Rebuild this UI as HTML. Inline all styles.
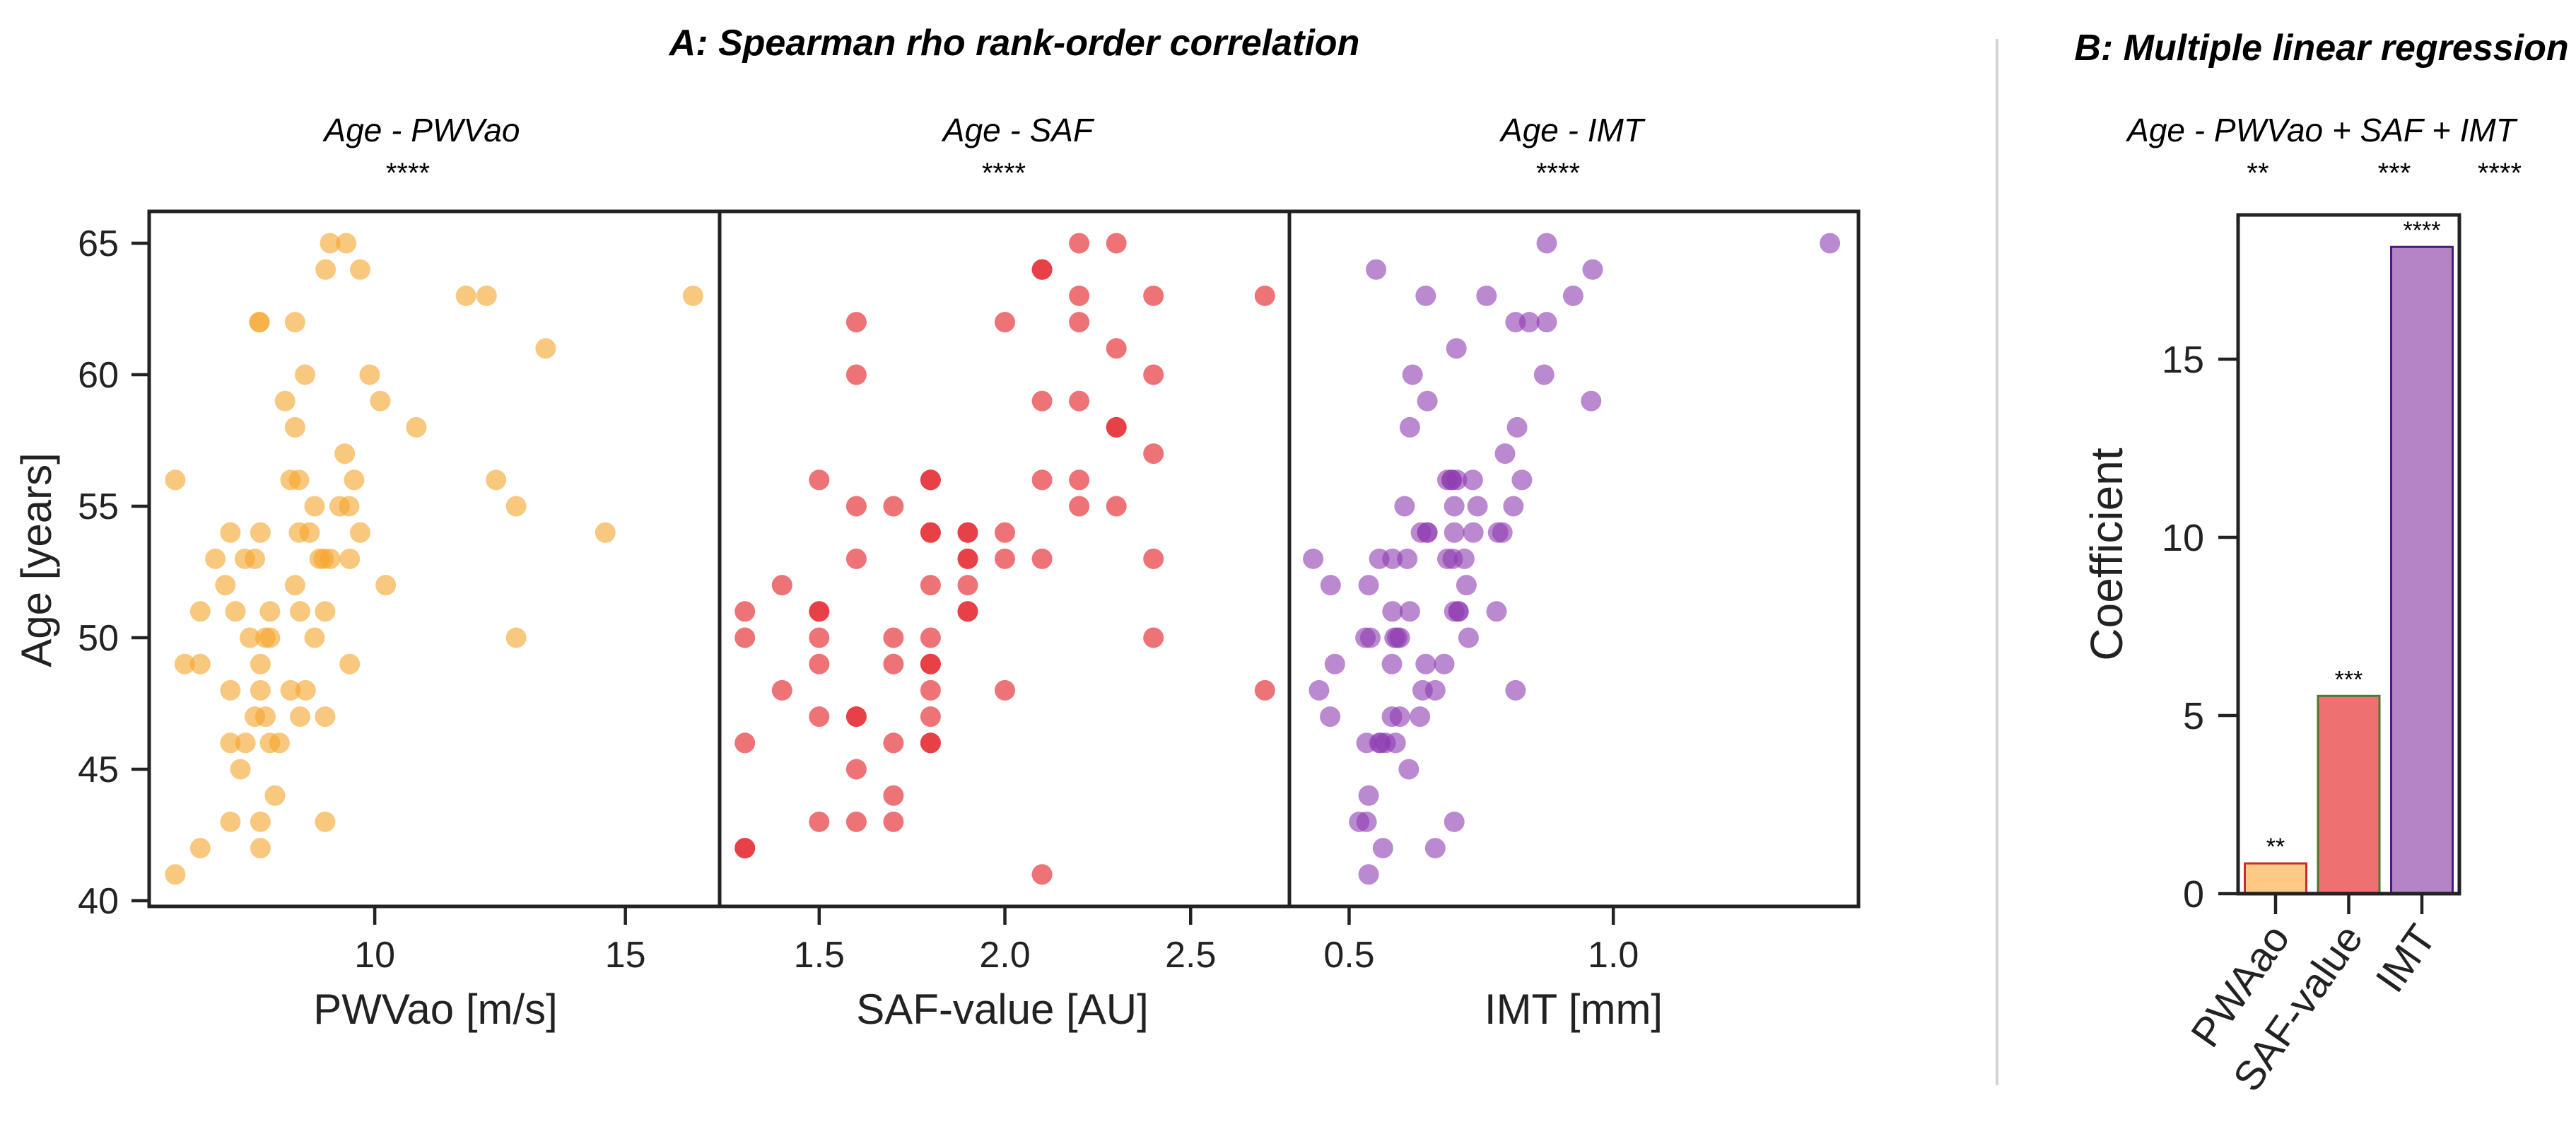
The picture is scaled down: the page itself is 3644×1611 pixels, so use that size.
<!DOCTYPE html>
<html><head><meta charset="utf-8"><style>
html,body{margin:0;padding:0;background:#fff;}
svg{display:block;font-family:"Liberation Sans",Arial,sans-serif;}
</style></head><body>
<svg id="chart" xmlns="http://www.w3.org/2000/svg" width="3644" height="1611" viewBox="0 0 3644 1611">
<rect x="0" y="0" width="3644" height="1611" fill="#fff"/>
<g id="g-panels"></g>
<text x="1435" y="78" font-size="52" font-weight="bold" font-style="italic" text-anchor="middle">A: Spearman rho rank-order correlation</text>
<text x="3284" y="85" font-size="52" font-weight="bold" font-style="italic" text-anchor="middle">B: Multiple linear regression</text>
<line x1="2825" y1="55" x2="2825" y2="1535" stroke="#d4d4d4" stroke-width="4"/>
<text transform="translate(72,792) rotate(-90)" font-size="60" text-anchor="middle" fill="#222">Age [years]</text>
<text transform="translate(3002,784) rotate(-90)" font-size="64" text-anchor="middle" fill="#222">Coefficient</text>
<text x="3284" y="200" font-size="46" font-style="italic" text-anchor="middle">Age - PWVao + SAF + IMT</text>
</svg>
<script>
// ---- Scatter data (ages and predictor values) ----
const pwvAge = [65,65,64,64,63,63,63,62,62,62,61,60,60,59,59,58,58,57,56,56,56,56,56,55,55,55,55,54,54,54,54,54,54,53,53,53,53,53,53,53,52,52,52,51,51,51,51,51,50,50,50,50,50,49,49,49,49,48,48,48,48,47,47,47,47,46,46,46,46,45,44,43,43,43,42,42,41];
const pwvVal = [9.11,9.43,9.02,9.71,11.82,12.23,16.35,7.70,7.70,8.41,13.41,8.61,9.90,8.21,10.11,8.41,10.83,9.40,6.02,8.32,8.49,9.59,12.42,8.80,9.30,9.49,12.82,7.12,7.72,8.49,8.70,9.71,14.60,6.82,7.41,7.61,8.90,8.98,9.11,9.50,7.02,8.41,10.22,6.52,7.22,7.91,8.51,9.01,7.51,7.82,7.91,8.80,12.82,6.21,6.52,7.72,9.50,7.12,7.72,8.32,8.62,7.61,7.82,8.51,9.01,7.12,7.42,7.91,8.10,7.32,8.01,7.12,7.72,9.01,6.52,7.72,6.02];
const safAge = [65,65,64,64,63,63,63,62,62,62,61,60,60,59,59,58,58,57,56,56,56,56,56,55,55,55,55,54,54,54,54,54,53,53,53,53,53,53,52,52,52,51,51,51,51,51,50,50,50,50,50,49,49,49,49,48,48,48,48,47,47,47,47,46,46,46,46,45,44,43,43,43,42,42,41];
const safVal = [2.2,2.3,2.1,2.1,2.2,2.4,2.7,1.6,2.0,2.2,2.3,1.6,2.4,2.1,2.2,2.3,2.3,2.4,1.5,1.8,1.8,2.1,2.2,1.6,1.7,2.2,2.3,1.8,1.8,1.9,1.9,2.0,1.6,1.9,1.9,2.0,2.1,2.4,1.4,1.8,1.9,1.3,1.5,1.5,1.9,1.9,1.3,1.5,1.7,1.8,2.4,1.5,1.7,1.8,1.8,1.4,1.8,2.0,2.7,1.5,1.6,1.6,1.8,1.3,1.7,1.8,1.8,1.6,1.7,1.5,1.6,1.7,1.3,1.3,2.1];
const imtAge = [65,65,64,64,63,63,63,62,62,62,61,60,60,59,59,58,58,57,56,56,56,56,56,56,55,55,55,55,54,54,54,54,54,54,54,53,53,53,53,53,53,53,52,52,52,51,51,51,51,51,51,50,50,50,50,50,50,49,49,49,49,48,48,48,48,47,47,47,47,46,46,46,46,46,45,44,43,43,43,42,42,41];
const imtVal = [0.874,1.41,0.551,0.961,0.645,0.760,0.924,0.815,0.841,0.874,0.703,0.620,0.869,0.648,0.958,0.615,0.818,0.795,0.686,0.694,0.694,0.704,0.734,0.827,0.605,0.699,0.743,0.811,0.636,0.648,0.648,0.699,0.735,0.782,0.790,0.432,0.557,0.582,0.610,0.686,0.696,0.718,0.465,0.537,0.722,0.582,0.615,0.699,0.707,0.707,0.779,0.531,0.540,0.586,0.591,0.596,0.726,0.473,0.581,0.645,0.680,0.443,0.639,0.663,0.815,0.464,0.581,0.596,0.634,0.533,0.557,0.560,0.569,0.588,0.613,0.537,0.519,0.533,0.699,0.564,0.663,0.537];
const ageTicks = [40,45,50,55,60,65];
const pwvTicks = [10,15];
const safTicks = [1.5,2.0,2.5];
const imtTicks = [0.5,1.0];
const pwvTickLabels = ["10","15"];
const safTickLabels = ["1.5","2.0","2.5"];
const imtTickLabels = ["0.5","1.0"];
// ---- Bar data ----
const barCategories = ["PWAao","SAF-value","IMT"];
const barValues = [0.85,5.55,18.15];
const barStars = ["**","***","****"];
const coefTicks = [0,5,10,15];

const NS="http://www.w3.org/2000/svg";
const root=document.getElementById('g-panels');
function mk(tag,attrs,parent){const e=document.createElementNS(NS,tag);for(const k in attrs)e.setAttribute(k,attrs[k]);(parent||root).appendChild(e);return e;}

// shared y scale
const yTop=299,yBot=1282;
function yAge(a){return 1274-(a-40)*37.2;}

const panels=[
 {key:'pwv',x0:211,x1:1018,d0:5.5,d1:16.88,vals:pwvVal,ages:pwvAge,ticks:pwvTicks,labels:pwvTickLabels,fill:'#f5a42a',op:0.6,title:'Age - PWVao',tx:597,xlabel:'PWVao [m/s]',lx:616},
 {key:'saf',x0:1018,x1:1824,d0:1.232,d1:2.766,vals:safVal,ages:safAge,ticks:safTicks,labels:safTickLabels,fill:'#e3242b',op:0.64,title:'Age - SAF',tx:1440,xlabel:'SAF-value [AU]',lx:1418},
 {key:'imt',x0:1824,x1:2629,d0:0.387,d1:1.464,vals:imtVal,ages:imtAge,ticks:imtTicks,labels:imtTickLabels,fill:'#8e3bb0',op:0.6,title:'Age - IMT',tx:2224,xlabel:'IMT [mm]',lx:2226}
];

panels.forEach(p=>{
  const sx=v=>p.x0+(v-p.d0)/(p.d1-p.d0)*(p.x1-p.x0);
  const g=mk('g',{});
  
  
  p.vals.forEach((v,i)=>{
    const c=mk('circle',{cx:sx(v).toFixed(1),cy:yAge(p.ages[i]).toFixed(1),r:14.5,fill:p.fill,'fill-opacity':p.op},g);
    
    
  });
  p.ticks.forEach((t,i)=>{
    const x=sx(t);
    const tk=mk('line',{x1:x,y1:yBot,x2:x,y2:yBot+26,stroke:'#222','stroke-width':4.5},g);
    
    
    const tl=mk('text',{x:x,y:1368,'font-size':52,'text-anchor':'middle',fill:'#222'},g);
    tl.textContent=p.labels[i];
    
    
  });
  const xl=mk('text',{x:p.lx,y:1448,'font-size':60,'text-anchor':'middle',fill:'#222'},g);
  xl.textContent=p.xlabel;
  
  
  const st=mk('text',{x:p.tx,y:200,'font-size':46,'font-style':'italic','text-anchor':'middle'},g);
  st.textContent=p.title;
  
  
  const ss=mk('text',{x:p.tx-20,y:258,'font-size':40,'text-anchor':'middle'},g);
  ss.textContent='****';
  
  
  const fr=mk('rect',{x:p.x0,y:yTop,width:p.x1-p.x0,height:yBot-yTop,fill:'none',stroke:'#222','stroke-width':5},g);
  
  
});
// y ticks left
ageTicks.forEach(a=>{
  const y=yAge(a);
  const tk=mk('line',{x1:186,y1:y,x2:211,y2:y,stroke:'#222','stroke-width':4.5});
  
  
  const tl=mk('text',{x:168,y:y+18,'font-size':52,'text-anchor':'end',fill:'#222'});
  tl.textContent=a;
  
  
});

// ---- Bar chart ----
const bx0=3166,bx1=3479,by0=304,byZero=1264,bpu=50.4;
const yc=v=>byZero-v*bpu;
const barFill=['#fdca86','#ee7070','#b584c6'];
const barStroke=['#d22a2a','#4a7a30','#4b1a80'];
const barCenters=[3219,3322,3426];
const bw=87;
barValues.forEach((v,i)=>{
  const cx=barCenters[0]+i*(barCenters[2]-barCenters[0])/2;
  const r=mk('rect',{x:cx-bw/2,y:yc(v),width:bw,height:byZero-yc(v),fill:barFill[i],stroke:barStroke[i],'stroke-width':3});
  
  
  const s=mk('text',{x:cx,y:yc(v)-12,'font-size':34,'text-anchor':'middle'});
  s.textContent=barStars[i];
  
  
  const tk=mk('line',{x1:cx,y1:byZero,x2:cx,y2:byZero+29,stroke:'#222','stroke-width':4.5});
  
  
  const tl=mk('text',{transform:`translate(${cx+22},${byZero+62}) rotate(-55)`,'font-size':58,'text-anchor':'end',fill:'#222'});
  tl.textContent=barCategories[i];
  
  
  const top=mk('text',{x:[3194,3387,3536][i],y:258,'font-size':40,'text-anchor':'middle'});
  top.textContent=barStars[i];
  
  
});
coefTicks.forEach(t=>{
  const y=yc(t);
  const tk=mk('line',{x1:3138,y1:y,x2:bx0,y2:y,stroke:'#222','stroke-width':4.5});
  
  
  const tl=mk('text',{x:3118,y:y+19,'font-size':54,'text-anchor':'end',fill:'#222'});
  tl.textContent=t;
  
  
});
const bf=mk('rect',{x:bx0,y:by0,width:bx1-bx0,height:byZero-by0,fill:'none',stroke:'#222','stroke-width':5});


</script>
</body></html>
